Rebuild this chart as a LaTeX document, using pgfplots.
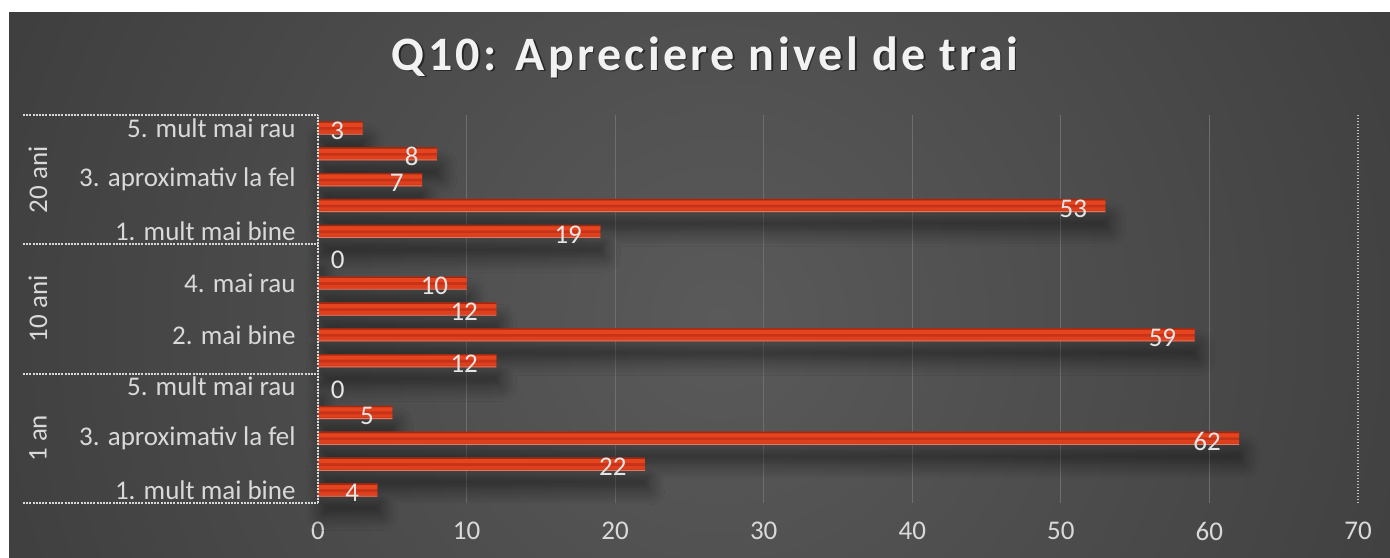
\documentclass[border=0pt]{standalone}
\usepackage{fontspec}
\setmainfont{Carlito}
\newfontfamily\titlefont[LetterSpace=7]{Carlito}
\usepackage{pgfplots}
\pgfplotsset{compat=1.18}
\usetikzlibrary{shadows.blur}
\definecolor{bgin}{HTML}{5A5A5A}
\definecolor{bgout}{HTML}{242424}
\definecolor{barmain}{HTML}{C63318}
\definecolor{barlight}{HTML}{E6441E}
\definecolor{barlight2}{HTML}{DE3F1C}
\definecolor{bardark}{HTML}{9E2810}
\definecolor{barline}{HTML}{E27A62}
\definecolor{txt}{HTML}{D9D9D9}
\definecolor{gridc}{HTML}{6E6E6E}
\pgfdeclareradialshading{bgshade}{\pgfpoint{0bp}{0bp}}{color(0bp)=(bgin); color(47.5bp)=(bgout); color(50bp)=(bgout)}
\pgfplotstableread{
x y
4 0
22 1
62 2
5 3
0 4
12 5
59 6
12 7
10 8
0 9
19 10
53 11
7 12
8 13
3 14
}\datatab
\tikzset{sepline/.style={white!85!black, line width=1.1pt, dash pattern=on 1pt off 0.6pt}}
\begin{document}
\begin{tikzpicture}
\useasboundingbox (0,0) rectangle (695pt,278.5pt);
\fill[white] (0,0) rectangle (695pt,278.5pt);
\begin{scope}
\clip (4.5pt,0) rectangle (695pt,272.5pt);
\fill[bgout] (4.5pt,0) rectangle (695pt,272.5pt);
\shade[shading=bgshade] (360pt,118pt) circle (400pt);
\end{scope}
\node[text=black, opacity=0.5, font=\titlefont\fontsize{24}{28}\selectfont\bfseries] at (353.3pt,249.2pt) {Q10: Apreciere nivel de trai};
\node[text=white!95!black, font=\titlefont\fontsize{24}{28}\selectfont\bfseries] at (352.5pt,250pt) {Q10: Apreciere nivel de trai};
\begin{axis}[
  at={(159pt,27pt)}, anchor=south west,
  scale only axis, width=520pt, height=194pt,
  xmin=0, xmax=70, ymin=-0.5, ymax=14.5,
  xtick={0,10,...,60},
  extra x ticks={70},
  extra x tick style={grid style={densely dotted, draw=white!75!black, line width=0.8pt}},
  ytick={0,2,...,14},
  yticklabels={1. mult mai bine, 3. aproximativ la fel, 5. mult mai rau, 2. mai bine, 4. mai rau, 1. mult mai bine, 3. aproximativ la fel, 5. mult mai rau},
  xmajorgrids, grid style={gridc, line width=0.5pt},
  axis line style={draw=none}, major tick length=0pt,
  tick label style={text=txt, font=\fontsize{13.5}{16}\selectfont},
  xticklabel style={inner sep=0pt, yshift=-9.5pt, anchor=north},
  yticklabel style={inner sep=0pt, xshift=-11pt, anchor=east},
  /pgf/number format/assume math mode=true,
  clip=false,
]
\addplot[xbar, bar width=6.6pt, bar shift=0pt, draw=none, fill=none,
  blur shadow={shadow xshift=2pt, shadow yshift=-9pt, shadow blur radius=8pt, shadow blur steps=10, shadow opacity=50}, forget plot]
  table[x=x, y=y] {\datatab};
\addplot[xbar, bar width=6.6pt, bar shift=0pt, draw=none, fill=barmain, forget plot]
  table[x=x, y=y] {\datatab};
\addplot[xbar, bar width=0.7pt, bar shift=2.95pt, draw=none, fill=bardark, forget plot]
  table[x=x, y=y] {\datatab};
\addplot[xbar, bar width=1.6pt, bar shift=-1.7pt, draw=none, fill=barlight2, forget plot]
  table[x=x, y=y] {\datatab};
\addplot[xbar, bar width=0.5pt, bar shift=-3.05pt, draw=none, fill=barline, forget plot]
  table[x=x, y=y] {\datatab};
\addplot[xbar, bar width=2pt, bar shift=1.5pt, draw=none, fill=barlight, forget plot,
  visualization depends on={rawx \as \rx},
  nodes near coords,
  every node near coord/.append style={anchor=east, inner sep=0pt, text=white!90!black,
    font=\fontsize{13.5}{16}\selectfont, xshift={(\rx==0)*22.5pt-9pt}, yshift=-1.5pt}]
  table[x=x, y=y] {\datatab};
% axis line and group separators
\draw[sepline] (axis cs:0,-0.5) -- (axis cs:0,14.5);
\draw[sepline] (axis cs:-19.86,-0.5) -- (axis cs:0,-0.5);
\draw[sepline] (axis cs:-19.86,4.5) -- (axis cs:0,4.5);
\draw[sepline] (axis cs:-19.86,9.5) -- (axis cs:0,9.5);
\draw[sepline] (axis cs:-19.86,14.5) -- (axis cs:0,14.5);
\node[rotate=90, text=txt, font=\fontsize{13.5}{16}\selectfont] at (axis cs:-18.85,2) {1 an};
\node[rotate=90, text=txt, font=\fontsize{13.5}{16}\selectfont] at (axis cs:-18.85,7) {10 ani};
\node[rotate=90, text=txt, font=\fontsize{13.5}{16}\selectfont] at (axis cs:-18.85,12) {20 ani};
\end{axis}
\fill[white] (0,0) rectangle (4.5pt,278.5pt);
\fill[white] (0,272.5pt) rectangle (695pt,278.5pt);
\end{tikzpicture}
\end{document}
